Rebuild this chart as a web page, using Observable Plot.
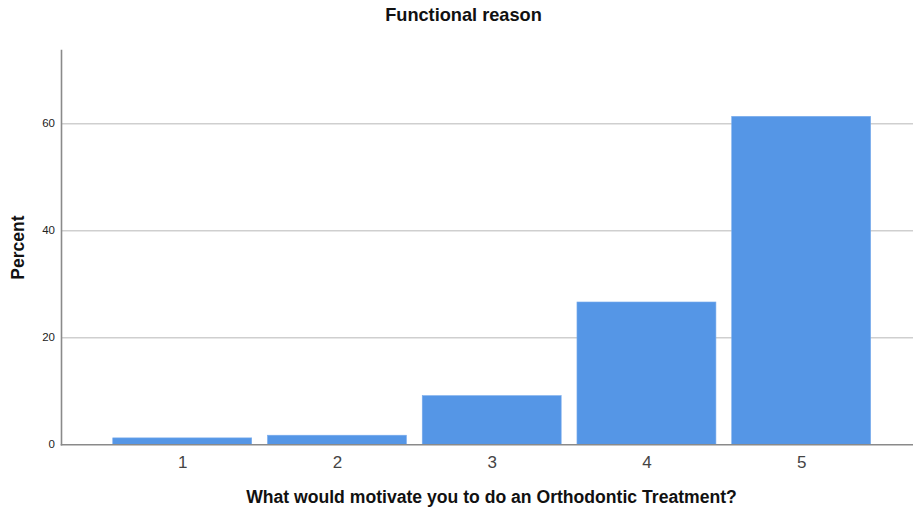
<!DOCTYPE html>
<html>
<head>
<meta charset="utf-8">
<script src="https://cdn.jsdelivr.net/npm/d3@7"></script>
<script src="https://cdn.jsdelivr.net/npm/@observablehq/plot@0.6"></script>
<style>
  html, body { margin: 0; padding: 0; background: #fff; overflow: hidden; }
  #title { height: 30px; width: 913px; text-align: center; font-family: "Liberation Sans", Arial, sans-serif;
           font-weight: bold; font-size: 18.2px; line-height: 30px; color: #111; box-sizing: border-box; padding-left: 14px; }
  #chart svg { display: block; }
</style>
</head>
<body>
<div id="title">Functional reason</div>
<div id="chart"></div>
<script>
const categories = ["1", "2", "3", "4", "5"];
const percents = [1.2, 1.7, 9.1, 26.6, 61.3];
const yTicks = [0, 20, 40, 60];
const titleText = "Functional reason";
const xLabel = "What would motivate you to do an Orthodontic Treatment?";
const yLabel = "Percent";

const data = categories.map((c, i) => ({category: c, percent: percents[i]}));

const chart = Plot.plot({
  width: 913,
  height: 482,
  marginLeft: 61,
  marginRight: 0,
  marginTop: 20,
  marginBottom: 67.7,
  style: {fontFamily: "'Liberation Sans', Arial, sans-serif", background: "#fff"},
  x: {domain: categories, paddingInner: 0.102, paddingOuter: 0.304, align: 0.55, round: false, label: null},
  y: {domain: [0, 73.7], label: null},
  marks: [
    Plot.gridY(yTicks.filter(d => d > 0), {stroke: "#cfcfcf", strokeOpacity: 1, strokeWidth: 1.5}),
    Plot.barY(data, {x: "category", y: "percent", fill: "#5596e6", stroke: "#7aaced", strokeWidth: 0.6}),
    Plot.frame({anchor: "left", stroke: "#8a8a8a", strokeWidth: 1.6}),
    Plot.frame({anchor: "bottom", stroke: "#8a8a8a", strokeWidth: 1.6}),
    Plot.axisY(yTicks, {tickSize: 0, tickPadding: 6.5, fontSize: 11.5, fill: "#222", label: null}),
    Plot.axisX({tickSize: 0, tickPadding: 11, fontSize: 17, fill: "#444", label: null}),
    Plot.text([xLabel], {frameAnchor: "bottom", dy: 53, dx: 4, fontSize: 17.6, fontWeight: "bold", fill: "#111", lineAnchor: "middle"}),
    Plot.text([yLabel], {frameAnchor: "left", dx: -43, rotate: -90, textAnchor: "middle", fontSize: 17.5, fontWeight: "bold", fill: "#111", lineAnchor: "middle"})
  ]
});
document.getElementById("chart").appendChild(chart);
</script>
</body>
</html>
